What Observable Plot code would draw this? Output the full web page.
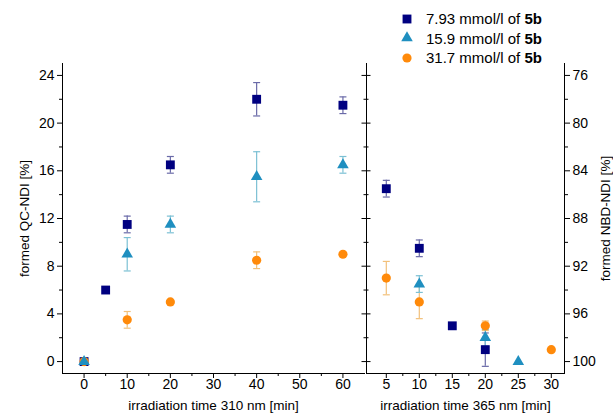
<!DOCTYPE html>
<html><head><meta charset="utf-8">
<script src="https://cdn.jsdelivr.net/npm/d3@7"></script>
<script src="https://cdn.jsdelivr.net/npm/@observablehq/plot@0.6"></script>
<style>
body{margin:0;background:#fff;}
#wrap{position:relative;width:613px;height:419px;font-family:"Liberation Sans",Arial,sans-serif;color:#000;}
#wrap svg{position:absolute;top:0;overflow:visible;}
#legend{position:absolute;left:400px;top:9px;font-size:15px;line-height:19.5px;}
#legend div{display:flex;align-items:center;height:19.5px;white-space:pre;}
#legend svg{position:static;margin-right:12px;}
</style></head><body><div id="wrap"><div id="legend"></div></div>
<script>
// ---- series ----
const seriesLabels = ["7.93 mmol/l of ", "15.9 mmol/l of ", "31.7 mmol/l of "];
const seriesBold = "5b";
const seriesColors = ["#000080", "#1f8fc0", "#ff8a0a"];
const errColors = ["#6a6aa8", "#7cc0d4", "#f2c07a"];
const seriesSymbols = ["square", "triangle", "circle"];
const seriesR = [5, 4.3, 4.6];

// ---- 310 nm panel (formed QC-NDI %) ----
const t310_sq = [0, 5, 10, 20, 40, 60];
const v310_sq = [0, 6, 11.5, 16.5, 22, 21.5];
const e310_sq = [0, 0, 0.7, 0.7, 1.4, 0.7];
const t310_tr = [0, 10, 20, 40, 60];
const v310_tr = [0, 9, 11.5, 15.5, 16.5];
const e310_tr = [0, 1.4, 0.7, 2.1, 0.7];
const t310_ci = [0, 10, 20, 40, 60];
const v310_ci = [0, 3.5, 5, 8.5, 9];
const e310_ci = [0, 0.7, 0, 0.7, 0];

// ---- 365 nm panel (formed NBD-NDI %, reversed axis) ----
const t365_sq = [5, 10, 15, 20];
const v365_sq = [85.5, 90.5, 97, 99];
const e365_sq = [0.7, 0.7, 0, 1.4];
const t365_tr = [10, 20, 25];
const v365_tr = [93.5, 98, 100];
const e365_tr = [0.7, 0.7, 0];
const t365_ci = [5, 10, 20, 30];
const v365_ci = [93, 95, 97, 99];
const e365_ci = [1.4, 1.4, 0.4, 0];

// ---- ticks ----
const yTicks310 = [0, 4, 8, 12, 16, 20, 24];
const yMinor310 = [2, 6, 10, 14, 18, 22];
const xTicks310 = [0, 10, 20, 30, 40, 50, 60];
const xMinor310 = [5, 15, 25, 35, 45, 55];
const yTicks365 = [76, 80, 84, 88, 92, 96, 100];
const yMinor365 = [78, 82, 86, 90, 94, 98];
const xTicks365 = [5, 10, 15, 20, 25, 30];
const xMinor365 = [7.5, 12.5, 17.5, 22.5, 27.5];

const xTitle310 = "irradiation time 310 nm [min]";
const xTitle365 = "irradiation time 365 nm [min]";
const yTitle310 = "formed QC-NDI [%]";
const yTitle365 = "formed NBD-NDI [%]";

function rows(t, v, e) { return t.map((d, i) => ({t: d, v: v[i], e: e[i]})); }
const panel310 = [rows(t310_sq, v310_sq, e310_sq), rows(t310_tr, v310_tr, e310_tr), rows(t310_ci, v310_ci, e310_ci)];
const panel365 = [rows(t365_sq, v365_sq, e365_sq), rows(t365_tr, v365_tr, e365_tr), rows(t365_ci, v365_ci, e365_ci)];

const cap = {draw(ctx) { ctx.moveTo(-3.5, 0); ctx.lineTo(3.5, 0); }};
const font = "Liberation Sans, Arial, sans-serif";

function seriesMarks(panel) {
  const order = [0, 2, 1];
  const marks = [];
  for (const i of order) {
    const data = panel[i].filter(d => d.e > 0);
    marks.push(Plot.ruleX(data, {x: "t", y1: d => d.v - d.e, y2: d => d.v + d.e, stroke: errColors[i], strokeWidth: 1.2}));
    marks.push(Plot.dot(data, {x: "t", y: d => d.v + d.e, symbol: cap, fill: "none", stroke: errColors[i], strokeWidth: 1.2}));
    marks.push(Plot.dot(data, {x: "t", y: d => d.v - d.e, symbol: cap, fill: "none", stroke: errColors[i], strokeWidth: 1.2}));
  }
  for (const i of order) {
    marks.push(Plot.dot(panel[i], {x: "t", y: "v", symbol: seriesSymbols[i], r: seriesR[i], fill: seriesColors[i], stroke: "none"}));
  }
  return marks;
}

const axStyle = {fontFamily: font, fontSize: "14px", background: "none", overflow: "visible", color: "#000"};

const left = Plot.plot({
  width: 366, height: 419,
  marginLeft: 62, marginRight: 2, marginTop: 63, marginBottom: 46,
  style: axStyle,
  x: {domain: [-5, 65]},
  y: {domain: [-1, 25]},
  marks: [
    Plot.axisY({ticks: yTicks310, tickSize: 5, tickPadding: 3, fontSize: 14, label: null}),
    Plot.axisY({ticks: yMinor310, tickSize: 3, text: null, label: null}),
    Plot.axisX({ticks: xTicks310, tickSize: 5, tickPadding: 1, fontSize: 14, label: null}),
    Plot.axisX({ticks: xMinor310, tickSize: 3, text: null, label: null}),
    Plot.frame({anchor: "left"}),
    Plot.frame({anchor: "bottom"}),
    ...seriesMarks(panel310),
    Plot.text([yTitle310], {frameAnchor: "left", textAnchor: "middle", rotate: -90, dx: -38, fontSize: 13.5, fill: "#000"}),
    Plot.text([xTitle310], {frameAnchor: "bottom", textAnchor: "middle", dy: 36, fontSize: 13.5, fill: "#000"})
  ]
});

const right = Plot.plot({
  width: 257, height: 419,
  marginLeft: 10, marginRight: 49, marginTop: 63, marginBottom: 46,
  style: axStyle,
  x: {domain: [2, 32]},
  y: {domain: [101, 75]},
  marks: [
    Plot.axisY({anchor: "left", ticks: yTicks365, tickSize: 9, dx: 4.5, text: null, label: null}),
    Plot.axisY({anchor: "left", ticks: yMinor365, tickSize: 5, dx: 2.5, text: null, label: null}),
    Plot.axisY({anchor: "right", ticks: yTicks365, tickSize: 5, tickPadding: 3, fontSize: 14, label: null}),
    Plot.axisY({anchor: "right", ticks: yMinor365, tickSize: 3, text: null, label: null}),
    Plot.axisX({ticks: xTicks365, tickSize: 5, tickPadding: 1, fontSize: 14, label: null}),
    Plot.axisX({ticks: xMinor365, tickSize: 3, text: null, label: null}),
    Plot.frame({anchor: "left"}),
    Plot.frame({anchor: "right"}),
    Plot.frame({anchor: "bottom"}),
    ...seriesMarks(panel365),
    Plot.text([yTitle365], {frameAnchor: "right", textAnchor: "middle", rotate: -90, dx: 41, fontSize: 13.5, fill: "#000"}),
    Plot.text([xTitle365], {frameAnchor: "bottom", textAnchor: "middle", dy: 36, fontSize: 13.5, fill: "#000"})
  ]
});

const wrap = document.getElementById("wrap");
left.style.left = "0px";
right.style.left = "356px";
wrap.appendChild(left);
wrap.appendChild(right);

// legend
const legend = d3.select("#legend");
const symMap = {square: d3.symbolSquare, triangle: d3.symbolTriangle, circle: d3.symbolCircle};
seriesLabels.forEach((lab, i) => {
  const row = legend.append("div");
  const s = row.append("svg").attr("width", 14).attr("height", 14);
  s.append("path").attr("transform", "translate(7,7)")
    .attr("d", d3.symbol(symMap[seriesSymbols[i]], Math.PI * seriesR[i] * seriesR[i])())
    .attr("fill", seriesColors[i]);
  row.append("span").text(lab);
  row.append("b").text(seriesBold);
});
</script></body></html>
